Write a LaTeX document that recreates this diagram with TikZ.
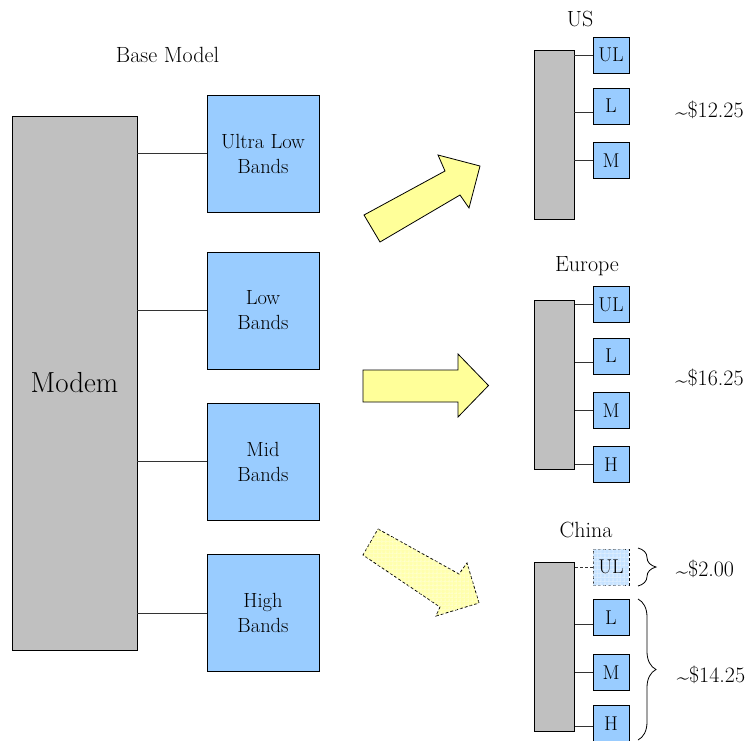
\documentclass[tikz,border=0pt]{standalone}
\usetikzlibrary{decorations.pathreplacing,patterns.meta}
\definecolor{bandblue}{HTML}{99CCFF}
\definecolor{modemgray}{HTML}{C0C0C0}
\definecolor{arrowyellow}{HTML}{FFFF99}
\newcommand{\tildeprice}{\raisebox{-0.22ex}{\textasciitilde}}
\begin{document}
\begin{tikzpicture}[x=1pt,y=-1pt,
  txt/.style={font=\fontsize{22}{25}\selectfont, inner sep=0pt},
  bigband/.style={draw=black, fill=bandblue, line width=0.8pt, minimum width=112pt, minimum height=117pt, align=center, inner sep=0pt, font=\fontsize{20.5}{25}\selectfont},
  smallband/.style={draw=black, fill=bandblue, line width=0.8pt, minimum width=36pt, minimum height=36pt, inner sep=0pt, font=\fontsize{20}{24}\selectfont},
  ghostband/.style={smallband, dashed, dash pattern=on 3pt off 2pt, fill=bandblue!55!white,
     postaction={pattern={Lines[distance=4pt, angle=0, line width=0.6pt]}, pattern color=white!70!bandblue},
     postaction={pattern={Lines[distance=4pt, angle=90, line width=0.6pt]}, pattern color=white!70!bandblue}},
  graybar/.style={draw=black, fill=modemgray, line width=0.8pt, minimum width=40pt, minimum height=169pt, inner sep=0pt},
  link/.style={draw=black!80, line width=0.8pt},
  bigarrow/.style={draw=black, fill=arrowyellow, line width=0.8pt, line join=miter},
  ghostarrow/.style={draw=black, line width=0.8pt, dash pattern=on 3pt off 2pt, fill=arrowyellow!80!white,
     postaction={pattern={Lines[distance=4pt, angle=0, line width=0.6pt]}, pattern color=white!50!arrowyellow},
     postaction={pattern={Lines[distance=4pt, angle=90, line width=0.6pt]}, pattern color=white!50!arrowyellow}},
  bracestyle/.style={draw=black, line width=0.8pt, decorate, decoration={brace, amplitude=18pt}}
]
\useasboundingbox (0,0) rectangle (747,740);

% Base model
\node[txt] (base) at (167.5,55) {Base Model};
\node[draw=black, fill=modemgray, line width=0.8pt, minimum width=125pt, minimum height=534pt, inner sep=0pt,
      font=\fontsize{29}{31}\selectfont] (modem) at (74.5,383) {Modem};
\node[bigband] (ulb) at (263,153.5) {Ultra Low\\Bands};
\node[bigband] (lb) at (263,310.5) {Low\\Bands};
\node[bigband] (mb) at (263,461.5) {Mid\\Bands};
\node[bigband] (hb) at (263,613) {High\\Bands};
\foreach \b in {ulb,lb,mb,hb} \draw[link] (\b.west) -- (\b.west -| modem.east);

% Arrows
\draw[bigarrow] (364,215) -- (445,171) -- (438,155) -- (480,166) -- (469,208) -- (460,195) -- (380,242) -- cycle;
\draw[bigarrow] (363,370) -- (458,370) -- (458,354) -- (488.5,385.5) -- (458,417) -- (458,402) -- (363,402) -- cycle;
\draw[ghostarrow] (378,529) -- (459,574) -- (467,563) -- (479,603) -- (436,616) -- (440,607) -- (363,555) -- cycle;

% US
\node[txt] (ust) at (580,19) {US};
\node[graybar] (usbar) at (554,134.5) {};
\node[smallband] (usul) at (611,55) {UL};
\node[smallband] (usl) at (611,106) {L};
\node[smallband] (usm) at (611,160.5) {M};
\draw[link] (usul.west) -- (usul.west -| usbar.east);
\draw[link] ([yshift=-6.5pt]usl.west) -- ([yshift=-6.5pt]usl.west -| usbar.east);
\draw[link] (usm.west) -- (usm.west -| usbar.east);
\node[txt] (usp) at (709.5,110) {\tildeprice\$12.25};

% Europe
\node[txt] (eut) at (587,266) {Europe};
\node[graybar] (eubar) at (554.5,385) {};
\node[smallband] (euul) at (611,304.5) {UL};
\node[smallband] (eul) at (611,356) {L};
\node[smallband] (eum) at (611,410.5) {M};
\node[smallband] (euh) at (611,464.5) {H};
\draw[link] (euul.west) -- (euul.west -| eubar.east);
\draw[link] ([yshift=-6.5pt]eul.west) -- ([yshift=-6.5pt]eul.west -| eubar.east);
\draw[link] (eum.west) -- (eum.west -| eubar.east);
\draw[link] (euh.west) -- (euh.west -| eubar.east);
\node[txt] (eup) at (709.5,378.5) {\tildeprice\$16.25};

% China
\node[txt] (cnt) at (586,530) {China};
\node[graybar] (cnbar) at (554.5,646.5) {};
\node[ghostband] (cnul) at (611,567) {UL};
\node[smallband] (cnl) at (611,617.5) {L};
\node[smallband] (cnm) at (611,672.5) {M};
\node[smallband] (cnh) at (611,723.5) {H};
\draw[link, dashed, dash pattern=on 3pt off 2pt] (cnul.west) -- (cnul.west -| cnbar.east);
\draw[link] ([yshift=-6.5pt]cnl.west) -- ([yshift=-6.5pt]cnl.west -| cnbar.east);
\draw[link] (cnm.west) -- (cnm.west -| cnbar.east);
\draw[link] ([yshift=-2.5pt]cnh.west) -- ([yshift=-2.5pt]cnh.west -| cnbar.east);
\coordinate (b1t) at (638,548);
\coordinate (b1b) at (638,586);
\coordinate (b2t) at (638,599);
\coordinate (b2b) at (638,740);
\draw[bracestyle] (b1t) -- (b1b);
\draw[bracestyle] (b2t) -- (b2b);
\node[txt] (cnp1) at (705,569) {\tildeprice\$2.00};
\node[txt] (cnp2) at (711,675) {\tildeprice\$14.25};
\end{tikzpicture}
\end{document}
